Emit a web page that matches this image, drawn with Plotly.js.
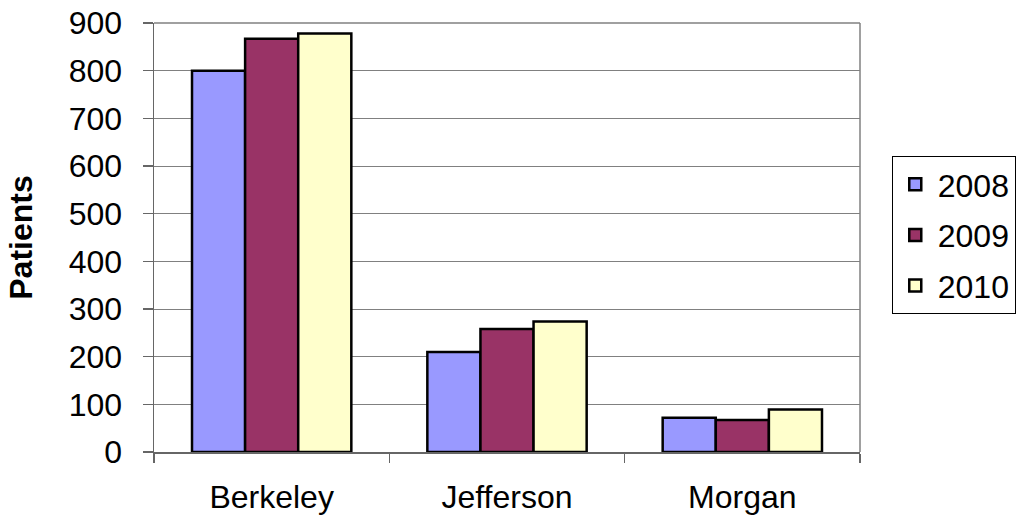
<!DOCTYPE html>
<html>
<head>
<meta charset="utf-8">
<script src="https://cdn.plot.ly/plotly-3.0.1.min.js"></script>
<style>html,body{margin:0;padding:0;background:#fff;}#chart{width:1019px;height:518px;}</style>
</head>
<body>
<div id="chart"></div>
<script>
const categories = ["Berkeley", "Jefferson", "Morgan"];
const seriesNames = ["2008", "2009", "2010"];
const values2008 = [800, 210, 72];
const values2009 = [867, 258, 67];
const values2010 = [878, 274, 89];
const colors = ["#9999FF", "#993366", "#FFFFCC"];
const yTicks = [0, 100, 200, 300, 400, 500, 600, 700, 800, 900];

const allValues = [values2008, values2009, values2010];
const traces = allValues.map((vals, i) => ({
  type: "bar",
  x: categories,
  y: vals,
  name: seriesNames[i],
  legendgroup: "g" + i,
  marker: {color: colors[i], line: {color: "#000000", width: 2.5}},
  hoverinfo: "none"
}));

const layout = {
  width: 1019,
  height: 518,
  margin: {l: 154, r: 159, t: 23, b: 66, autoexpand: false},
  paper_bgcolor: "#ffffff",
  plot_bgcolor: "#ffffff",
  font: {family: "Liberation Sans, Arial, sans-serif", size: 32, color: "#000000"},
  barmode: "group",
  bargap: 0.323,
  bargroupgap: 0,
  showlegend: true,
  legend: {
    x: 1.045, xanchor: "left",
    y: 0.69, yanchor: "top",
    bordercolor: "#000000", borderwidth: 1,
    bgcolor: "#ffffff",
    font: {size: 32, color: "#000000"},
    traceorder: "grouped",
    tracegroupgap: 6,
    itemwidth: 35
  },
  xaxis: {
    type: "category",
    showline: true, linecolor: "#666666", linewidth: 1.5,
    ticks: "outside", tickson: "boundaries", ticklen: 9, tickcolor: "#666666", tickwidth: 1.5,
    showgrid: false,
    tickfont: {size: 32},
    ticklabelstandoff: 16,
    automargin: false
  },
  yaxis: {
    range: [0, 900],
    tickvals: yTicks,
    ticktext: yTicks.map(String),
    showline: true, linecolor: "#666666", linewidth: 1.5,
    ticks: "outside", ticklen: 10, tickcolor: "#666666", tickwidth: 1.5,
    showgrid: true, gridcolor: "#808080", gridwidth: 1,
    zeroline: false,
    tickfont: {size: 32},
    ticklabelstandoff: 14,
    title: {text: "<b>Patients</b>", font: {size: 32}, standoff: 26},
    automargin: false
  },
  shapes: [
    {type: "line", xref: "paper", yref: "paper", x0: 1, x1: 1, y0: 0, y1: 1, line: {color: "#808080", width: 1.5}},
    {type: "line", xref: "paper", yref: "paper", x0: 0, x1: 1, y0: 1, y1: 1, line: {color: "#808080", width: 1.5}}
  ]
};

Plotly.newPlot("chart", traces, layout, {displayModeBar: false, staticPlot: true});
</script>
</body>
</html>
